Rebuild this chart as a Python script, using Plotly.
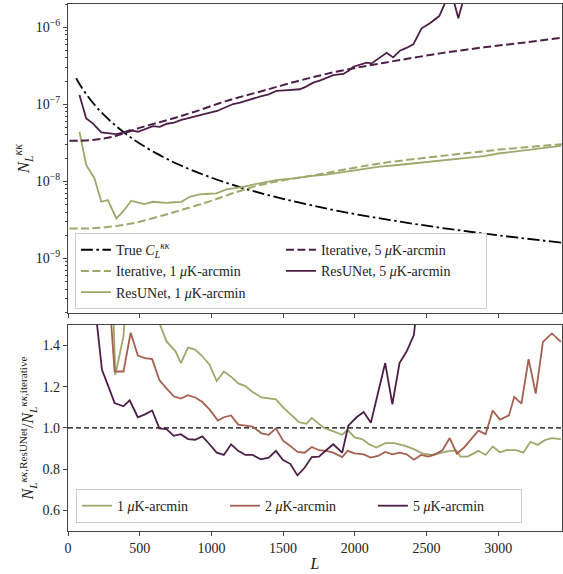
import plotly.graph_objects as go

FONT = "Liberation Serif"
C1 = "#9ea86b"   # 1 muK-arcmin
C2 = "#a6604f"   # 2 muK-arcmin
C5 = "#4d1f48"   # 5 muK-arcmin
AX = "#444444"

# ---------------- top panel data ----------------
true_L = [57, 80, 110, 150, 200, 260, 330, 407, 500, 620, 760, 950, 1200, 1500, 1900,
          2400, 2900, 3445]
true_C = [2.18e-7, 1.84e-7, 1.51e-7, 1.19e-7, 9.18e-8, 7.02e-8, 5.32e-8, 4.09e-8, 3.10e-8,
          2.29e-8, 1.69e-8, 1.21e-8, 8.39e-9, 5.93e-9, 4.08e-9, 2.83e-9, 2.10e-9, 1.60e-9]

iter1_L = [10, 150, 290, 452, 660, 800, 988, 1150, 1337, 1500, 1686, 1900, 2175, 2500,
           2803, 3100, 3444]
iter1_N = [2.45e-9, 2.45e-9, 2.57e-9, 2.85e-9, 3.6e-9, 4.3e-9, 5.5e-9, 7.0e-9, 8.95e-9,
           1.03e-8, 1.17e-8, 1.39e-8, 1.71e-8, 2.03e-8, 2.35e-8, 2.68e-8, 3.03e-8]

iter5_L = [10, 150, 313, 522, 700, 872, 1100, 1337, 1600, 1850, 2100, 2315, 2594, 2900,
           3200, 3445]
iter5_N = [3.37e-8, 3.42e-8, 3.8e-8, 5.1e-8, 6.3e-8, 7.9e-8, 1.1e-7, 1.46e-7, 2.0e-7,
           2.6e-7, 3.2e-7, 3.76e-7, 4.59e-7, 5.5e-7, 6.4e-7, 7.33e-7]

res1_L = [80, 127, 185, 232, 278, 337, 383, 441, 490, 534, 592, 640, 686, 740, 791, 848,
          918, 980, 1035, 1105, 1160, 1221, 1290, 1360, 1454, 1570, 1686, 1800, 1900, 2000,
          2100, 2175, 2300, 2400, 2500, 2600, 2700, 2803, 2900, 3000, 3100, 3200, 3300,
          3380, 3437]
res1_N = [4.4e-8, 1.63e-8, 1.09e-8, 5.43e-9, 5.7e-9, 3.3e-9, 4.03e-9, 5.6e-9, 5.3e-9,
          5.07e-9, 5.43e-9, 5.3e-9, 5.27e-9, 5.35e-9, 5.43e-9, 6.3e-9, 6.78e-9, 6.9e-9,
          6.98e-9, 7.87e-9, 8.1e-9, 8.5e-9, 9.1e-9, 9.6e-9, 1.04e-8, 1.09e-8, 1.17e-8,
          1.22e-8, 1.3e-8, 1.38e-8, 1.47e-8, 1.55e-8, 1.63e-8, 1.7e-8, 1.76e-8, 1.85e-8,
          1.93e-8, 2.0e-8, 2.12e-8, 2.3e-8, 2.42e-8, 2.52e-8, 2.7e-8, 2.8e-8, 2.88e-8]

res5_L = [80, 127, 173, 232, 290, 337, 385, 430, 488, 540, 592, 640, 690, 740, 790, 840,
          890, 940, 990, 1040, 1081, 1151, 1200, 1250, 1300, 1350, 1400, 1454, 1510, 1560,
          1617, 1660, 1710, 1760, 1800, 1850, 1920, 1960, 1990, 2040, 2082, 2117, 2170,
          2222, 2268, 2315, 2360, 2408, 2466, 2524, 2589, 2636, 2680, 2722, 2770, 2830,
          2900, 3000, 3100, 3200, 3300, 3437]
res5_N = [1.32e-7, 6.57e-8, 5.66e-8, 4.32e-8, 4.2e-8, 4.11e-8, 4.3e-8, 4.63e-8, 4.41e-8,
          4.8e-8, 5.22e-8, 5.1e-8, 5.6e-8, 5.8e-8, 6.3e-8, 6.6e-8, 7.0e-8, 7.5e-8, 7.8e-8,
          8.2e-8, 8.87e-8, 1.01e-7, 1.05e-7, 1.12e-7, 1.22e-7, 1.28e-7, 1.35e-7, 1.50e-7,
          1.52e-7, 1.53e-7, 1.57e-7, 1.7e-7, 1.91e-7, 2.05e-7, 2.2e-7, 2.40e-7, 2.48e-7,
          2.75e-7, 3.08e-7, 3.25e-7, 3.47e-7, 3.4e-7, 4.0e-7, 4.67e-7, 4.07e-7, 4.97e-7,
          5.4e-7, 6.0e-7, 9.7e-7, 1.13e-6, 1.4e-6, 2.2e-6, 2.6e-6, 1.31e-6, 2.8e-6, 3.2e-6,
          3.8e-6, 4.5e-6, 5.5e-6, 6.5e-6, 8.0e-6, 1.0e-5]

# ---------------- bottom panel data (ratios) ----------------
r1_L = [87, 137, 187, 237, 287, 330, 387, 437, 487, 537, 587, 637, 687, 750, 787, 837,
        887, 937, 987, 1037, 1087, 1137, 1187, 1237, 1287, 1350, 1400, 1450, 1500, 1550,
        1612, 1662, 1700, 1750, 1787, 1837, 1912, 1950, 2000, 2050, 2100, 2150, 2212,
        2275, 2350, 2412, 2475, 2537, 2600, 2662, 2712, 2737, 2787, 2862, 2912, 2962,
        3012, 3062, 3125, 3175, 3225, 3275, 3325, 3375, 3437]
r1_V = [18, 6.6, 4.4, 2.1, 2.2, 1.257, 1.446, 1.96, 1.69, 1.65, 1.6, 1.51, 1.42, 1.372,
        1.315, 1.39, 1.38, 1.348, 1.307, 1.228, 1.274, 1.249, 1.216, 1.203, 1.175, 1.148,
        1.143, 1.139, 1.10, 1.069, 1.028, 1.02, 1.049, 1.02, 1.0, 0.987, 0.967, 0.99,
        0.954, 0.946, 0.921, 0.905, 0.926, 0.926, 0.913, 0.897, 0.875, 0.869, 0.88, 0.889,
        0.889, 0.861, 0.861, 0.889, 0.869, 0.91, 0.882, 0.893, 0.892, 0.88, 0.933, 0.918,
        0.941, 0.951, 0.946]

r2_L = [137, 187, 237, 287, 325, 387, 437, 487, 537, 587, 637, 687, 737, 787, 837, 887,
        937, 987, 1045, 1087, 1137, 1187, 1237, 1287, 1350, 1400, 1450, 1500, 1550, 1600,
        1650, 1700, 1750, 1800, 1850, 1912, 1950, 2000, 2062, 2112, 2162, 2212, 2262,
        2312, 2362, 2412, 2462, 2512, 2562, 2612, 2662, 2712, 2762, 2812, 2862, 2912,
        2962, 3012, 3075, 3112, 3162, 3212, 3262, 3312, 3375, 3437]
r2_V = [4.0, 2.6, 2.0, 1.65, 1.274, 1.274, 1.462, 1.351, 1.339, 1.334, 1.233, 1.192,
        1.154, 1.143, 1.159, 1.148, 1.126, 1.09, 1.036, 1.052, 1.061, 1.016, 1.011, 1.007,
        0.974, 0.967, 0.998, 0.938, 0.913, 0.884, 0.880, 0.908, 0.892, 0.889, 0.88, 0.859,
        0.889, 0.877, 0.872, 0.856, 0.864, 0.884, 0.872, 0.88, 0.872, 0.846, 0.869, 0.861,
        0.872, 0.893, 0.951, 0.875, 0.905, 0.946, 0.987, 0.97, 1.085, 1.041, 1.061, 1.151,
        1.118, 1.334, 1.167, 1.418, 1.459, 1.418]

r5_L = [87, 137, 187, 237, 287, 325, 387, 430, 487, 537, 587, 637, 687, 737, 787, 837,
        887, 937, 987, 1037, 1087, 1137, 1187, 1237, 1287, 1345, 1400, 1450, 1500, 1550,
        1600, 1650, 1700, 1750, 1800, 1850, 1912, 1955, 2012, 2062, 2112, 2162, 2212,
        2262, 2312, 2362, 2412, 2466, 2524, 2589, 2636, 2680, 2722, 2770, 2830, 2900,
        3000, 3100, 3200, 3300, 3437]
r5_V = [4.0, 2.5, 1.6, 1.282, 1.192, 1.121, 1.105, 1.134, 1.052, 1.066, 1.085, 0.998,
        0.995, 0.962, 0.970, 0.946, 0.943, 0.959, 0.921, 0.880, 0.869, 0.921, 0.889, 0.869,
        0.869, 0.848, 0.856, 0.889, 0.844, 0.826, 0.77, 0.807, 0.859, 0.861, 0.892, 0.921,
        0.880, 1.011, 1.052, 1.077, 1.025, 1.167, 1.315, 1.115, 1.315, 1.372, 1.451, 1.8,
        1.95, 2.1, 2.9, 3.2, 2.5, 3.4, 3.8, 4.4, 4.9, 5.6, 6.3, 7.4, 13.6]

x_ticks = [0, 500, 1000, 1500, 2000, 2500, 3000]
y_top_ticks = [1e-9, 1e-8, 1e-7, 1e-6]
y_top_text = ["10<sup>−9</sup>", "10<sup>−8</sup>", "10<sup>−7</sup>", "10<sup>−6</sup>"]
y_bot_ticks = [0.6, 0.8, 1.0, 1.2, 1.4]
y_bot_text = ["0.6", "0.8", "1.0", "1.2", "1.4"]

MU = "<i>μ</i>K-arcmin"
DASH = "8px,3.5px"
DASHDOT = "12px,3.5px,2.5px,3.5px"

fig = go.Figure()

# top panel traces
fig.add_trace(go.Scatter(x=true_L, y=true_C, mode="lines", line=dict(color="black", width=1.8, dash=DASHDOT, shape="spline"),
                         name="True <i>C</i><sub><i>L</i></sub><sup><i>κκ</i></sup>", legend="legend", legendrank=1,
                         xaxis="x", yaxis="y"))
fig.add_trace(go.Scatter(x=iter1_L, y=iter1_N, mode="lines", line=dict(color=C1, width=2, dash=DASH, shape="spline"),
                         name="Iterative, 1 " + MU, legend="legend", legendrank=3, xaxis="x", yaxis="y"))
fig.add_trace(go.Scatter(x=res1_L, y=res1_N, mode="lines", line=dict(color=C1, width=1.8),
                         name="ResUNet, 1 " + MU, legend="legend", legendrank=5, xaxis="x", yaxis="y"))
fig.add_trace(go.Scatter(x=iter5_L, y=iter5_N, mode="lines", line=dict(color=C5, width=2, dash=DASH, shape="spline"),
                         name="Iterative, 5 " + MU, legend="legend", legendrank=2, xaxis="x", yaxis="y"))
fig.add_trace(go.Scatter(x=res5_L, y=res5_N, mode="lines", line=dict(color=C5, width=1.8),
                         name="ResUNet, 5 " + MU, legend="legend", legendrank=4, xaxis="x", yaxis="y"))

# bottom panel traces
fig.add_trace(go.Scatter(x=r1_L, y=r1_V, mode="lines", line=dict(color=C1, width=1.8),
                         name="1 " + MU, legend="legend2", xaxis="x2", yaxis="y2"))
fig.add_trace(go.Scatter(x=r2_L, y=r2_V, mode="lines", line=dict(color=C2, width=1.8),
                         name="2 " + MU, legend="legend2", xaxis="x2", yaxis="y2"))
fig.add_trace(go.Scatter(x=r5_L, y=r5_V, mode="lines", line=dict(color=C5, width=1.8),
                         name="5 " + MU, legend="legend2", xaxis="x2", yaxis="y2"))

fig.add_shape(type="line", xref="x2 domain", x0=0, x1=1, yref="y2", y0=1.0, y1=1.0,
              line=dict(color="black", width=1.2, dash="5px,3px"), layer="below")

axis_common = dict(showline=True, mirror=True, linecolor=AX, linewidth=1.2, showgrid=False,
                   zeroline=False, ticks="outside", ticklen=4, tickwidth=1, tickcolor=AX,
                   automargin=False,
                   tickfont=dict(family=FONT, size=14, color="#222"))

minor_vals = [k * 10.0 ** e for e in range(-10, -4) for k in range(2, 10)]

fig.update_layout(
    width=563, height=574,
    margin=dict(l=68, r=1, t=4, b=43, autoexpand=False),
    plot_bgcolor="white", paper_bgcolor="white",
    font=dict(family=FONT, size=14, color="#222"),
    xaxis=dict(domain=[0, 1], range=[0, 3445], anchor="y", tickvals=x_ticks, showticklabels=False,
               **axis_common),
    yaxis=dict(domain=[0.413, 1], type="log", range=[-9.714, -5.697], anchor="x",
               tickvals=y_top_ticks, ticktext=y_top_text,
               minor=dict(tickvals=minor_vals, ticks="outside", ticklen=2, tickcolor=AX, showgrid=False),
               title=dict(text="<i>N</i><sub><i>L</i></sub><sup><i>κκ</i></sup>", standoff=1,
                          font=dict(family=FONT, size=17)),
               **axis_common),
    xaxis2=dict(domain=[0, 1], range=[0, 3445], anchor="y2", tickvals=x_ticks,
                title=dict(text="<i>L</i>", standoff=2, font=dict(family=FONT, size=16)),
                **axis_common),
    yaxis2=dict(domain=[0, 0.391], range=[0.5, 1.5], anchor="x2", tickvals=y_bot_ticks, ticktext=y_bot_text,
                title=dict(text="<i>N</i><sub><i>L</i></sub><sup><i>κκ</i>,ResUNet</sup>/<i>N</i><sub><i>L</i></sub><sup><i>κκ</i>,iterative</sup>",
                           standoff=4, font=dict(family=FONT, size=16)),
                **axis_common),
    legend=dict(x=0.014, y=0.421, xanchor="left", yanchor="bottom", orientation="h",
                entrywidth=160, traceorder="normal",
                bgcolor="rgba(255,255,255,0.85)", bordercolor="#cccccc", borderwidth=1,
                font=dict(family=FONT, size=14, color="#222")),
    legend2=dict(x=0.016, y=0.015, xanchor="left", yanchor="bottom", orientation="h",
                 entrywidth=103, traceorder="normal",
                 bgcolor="rgba(255,255,255,0.85)", bordercolor="#cccccc", borderwidth=1,
                 font=dict(family=FONT, size=14, color="#222")),
    showlegend=True,
)

fig.write_html("out.html", config={"displayModeBar": False},
               post_script="document.body.style.margin='0';document.body.style.padding='0';")
